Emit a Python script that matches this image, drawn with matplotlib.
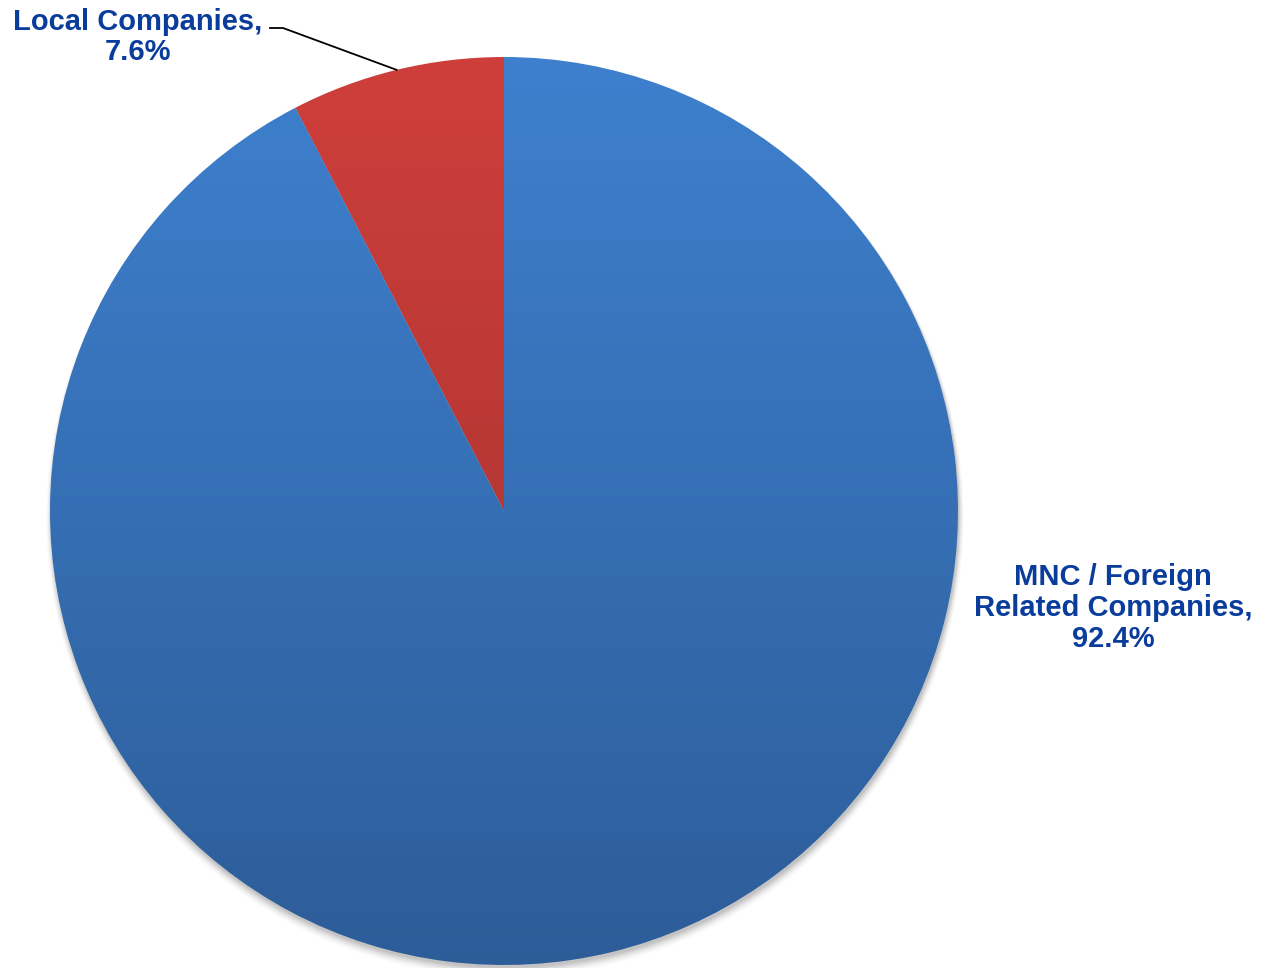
import numpy as np
import matplotlib
matplotlib.use("Agg")
import matplotlib.pyplot as plt
from matplotlib.colors import LinearSegmentedColormap

labels = ["Local Companies", "MNC / Foreign\nRelated Companies"]
values = [7.6, 92.4]
top_colors = ["#CE3F3B", "#3E80CE"]
bottom_colors = ["#9E2F2C", "#2D5D99"]

W, H = 1264, 968
fig = plt.figure(figsize=(W / 100, H / 100), dpi=100)
ax = fig.add_axes([0, 0, 1, 1])

cx, cy, r = 504, H - 511, 454

# soft shadow
for i, a in enumerate(np.linspace(0.05, 0.012, 8)):
    circ = plt.Circle((cx + 1, cy - 3 - i * 0.6), r + i * 0.7, color="black", alpha=a, lw=0, zorder=1)
    ax.add_patch(circ)

wedges, _ = ax.pie(values, startangle=90, counterclock=True, center=(cx, cy), radius=r,
                   frame=True, wedgeprops=dict(linewidth=0))
ax.set_xlim(0, W)
ax.set_ylim(0, H)
ax.set_aspect("equal")
ax.axis("off")

for k, (w, tc, bc) in enumerate(zip(wedges, top_colors, bottom_colors)):
    w.set_facecolor("none")
    w.set_zorder(2)
    cmap = LinearSegmentedColormap.from_list("g", [bc, tc])
    grad = np.linspace(0, 1, 256).reshape(-1, 1)
    bb = w.get_path().get_extents()
    ext = [cx - r, cx + r, cy - r, cy + r] if k == 1 else [bb.x0, bb.x1, cy - r, bb.y1]
    im = ax.imshow(grad, cmap=cmap, origin="lower", aspect="auto",
                   extent=ext, zorder=3, interpolation="bilinear")
    im.set_clip_path(w)

ax.set_xlim(0, W)
ax.set_ylim(0, H)

txt_color = "#0A3C9C"
font = dict(family=["Liberation Sans", "DejaVu Sans"], weight="bold", fontsize=21, color=txt_color)

# Local label with leader line
local_mid = 90 + values[0] / 100 * 360 / 2
ang = np.deg2rad(local_mid)
ex, ey = cx + r * np.cos(ang), cy + r * np.sin(ang)
ax.plot([270, 283, ex], [H - 28, H - 28, ey], color="black", lw=1.3, zorder=4)
ax.text(138, H - 37, f"{labels[0]},\n{values[0]}%", ha="center", va="center",
        linespacing=1.12, **font)

ax.text(1113, H - 608, f"{labels[1]},\n{values[1]}%", ha="center", va="center",
        linespacing=1.12, **font)

fig.savefig("out.png", dpi=100)
